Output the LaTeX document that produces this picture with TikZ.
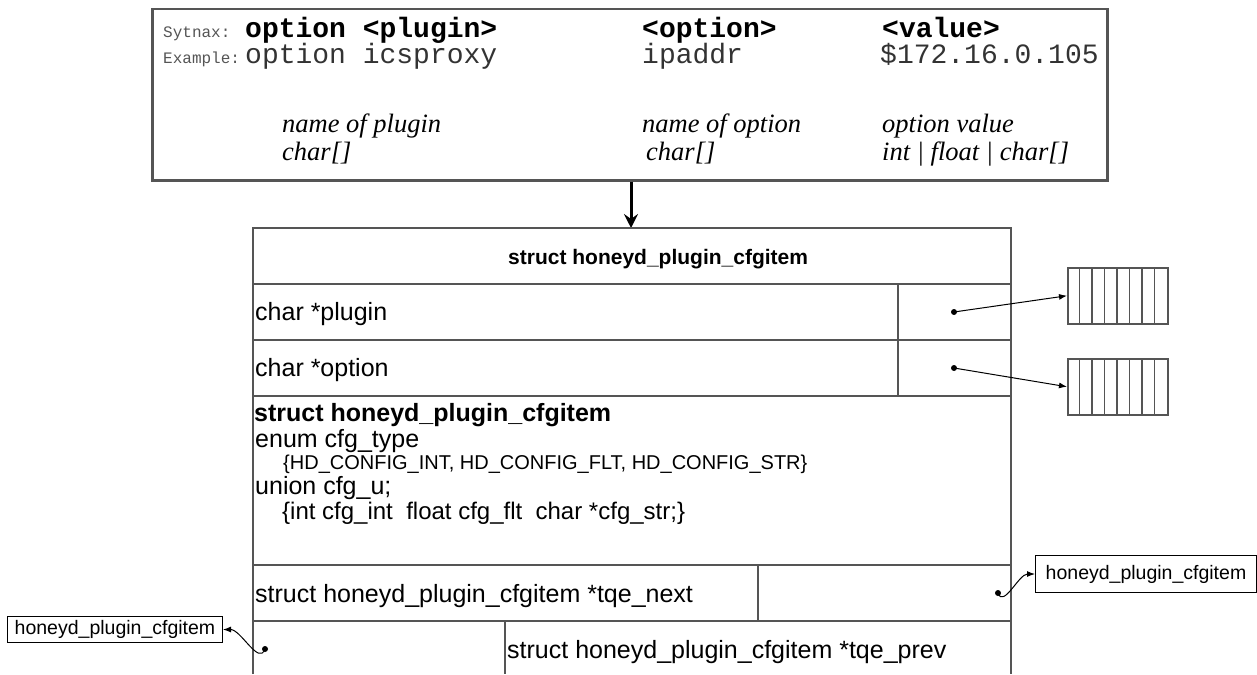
\documentclass[tikz,border=0pt]{standalone}
\usepackage{fontspec}
\setmainfont{Liberation Sans}
\newfontfamily\monofont{Liberation Mono}
\newfontfamily\timesfont{Liberation Serif}
\usetikzlibrary{arrows.meta}
\definecolor{rule}{HTML}{555555}
\definecolor{ink}{HTML}{333333}

\begin{document}
\begin{tikzpicture}[x=1pt, y=-1pt,
  txt/.style={anchor=base west, inner sep=0pt},
  field/.style={txt, font=\fontsize{25}{28}\selectfont},
  small field/.style={txt, font=\fontsize{20}{22}\selectfont},
  code/.style={txt, font=\monofont\fontsize{28}{30}\selectfont},
  tag/.style={txt, font=\monofont\fontsize{16}{18}\selectfont, text=rule},
  note/.style={txt, font=\timesfont\itshape\fontsize{26.5}{28}\selectfont},
  namebox/.style={draw=black, line width=1, inner sep=0pt, font=\fontsize{19.5}{21}\selectfont},
  chararray/.style={draw=rule, line width=1.5, minimum width=100, minimum height=56, inner sep=0pt},
  ptr/.style={line width=1, -{Latex[length=8,width=6]}}
]
\useasboundingbox[fill=white] (0,0) rectangle (1257,674);

% syntax box
\node[draw=rule, line width=2.5, minimum width=955, minimum height=171, inner sep=0pt, anchor=north west] (syntax) at (151,8) {};
\node[tag] (syn) at (163,38) {Sytnax:};
\node[tag] (exa) at (163,64) {Example:};
\node[code, font=\monofont\bfseries\fontsize{28}{30}\selectfont] (plug) at (245,38) {option <plugin>};
\node[code, font=\monofont\bfseries\fontsize{28}{30}\selectfont] (opt) at (642,38) {<option>};
\node[code, font=\monofont\bfseries\fontsize{28}{30}\selectfont] (val) at (882,38) {<value>};
\node[code, text=ink] (plugx) at (245,64) {option icsproxy};
\node[code, text=ink] (optx) at (642,64) {ipaddr};
\node[code, text=ink] (valx) at (880,64) {\$172.16.0.105};
\node[note] (plugn) at (282,132) {name of plugin};
\node[note] (plugt) at (282,160) {char[]};
\node[note] (optn) at (642,132) {name of option};
\node[note] (optt) at (646,160) {char[]};
\node[note] (valn) at (882,132) {option value};
\node[note] (valt) at (882,160) {int | float | char[]};

% struct
\node[txt, font=\bfseries\fontsize{21}{23}\selectfont] (head) at (508,264) {struct honeyd\_plugin\_cfgitem};
\coordinate (top) at (631,228);
\draw[line width=3, -{Stealth[length=14,width=14,inset=5]}] (syntax.south -| top) -- (top);

\draw[rule, line width=1.5] (253,674) -- (253,228) -- (1011,228) -- (1011,674);
\foreach \y in {284,340,396,565,621}{
	\draw[rule, line width=1.5] (253,\y) -- (1011,\y);
}
\draw[rule, line width=1.5] (898,284) -- (898,396);
\draw[rule, line width=1.5] (758,565) -- (758,621);
\draw[rule, line width=1.5] (505,621) -- (505,674);

\node[field] (plugin) at (255,320) {char *plugin};
\node[field] (option) at (255,376) {char *option};
\node[field, font=\bfseries\fontsize{25}{28}\selectfont] (inner) at (254,421) {struct honeyd\_plugin\_cfgitem};
\node[field] (enum) at (255,447) {enum cfg\_type};
\node[small field] (enumv) at (283,469) {\{HD\_CONFIG\_INT, HD\_CONFIG\_FLT, HD\_CONFIG\_STR\}};
\node[field] (union) at (255,494) {union cfg\_u;};
\node[field, font=\fontsize{24}{26}\selectfont] (unionv) at (282,519) {\{int cfg\_int\ \ float cfg\_flt\ \ char *cfg\_str;\}};
\node[field] (next) at (255,602) {struct honeyd\_plugin\_cfgitem *tqe\_next};
\node[field] (prev) at (507,658) {struct honeyd\_plugin\_cfgitem *tqe\_prev};

% char arrays
\foreach \y/\n in {267/arrA, 358/arrB}{
	\node[chararray, anchor=north west] (\n) at (1067,\y) {};
	\foreach \i in {1,...,7}{
		\draw[rule, line width=1.2] (1067+12.5*\i,\y) -- (1067+12.5*\i,\y+56);
	}
}

% list neighbours
\node[namebox, minimum width=221, minimum height=37, anchor=north west] (nextbox) at (1035,555) {honeyd\_plugin\_cfgitem};
\node[namebox, minimum width=215, minimum height=26, anchor=north west] (prevbox) at (7,616) {honeyd\_plugin\_cfgitem};

% pointers
\coordinate (pPlug) at (954,312);
\coordinate (pOpt) at (954,368);
\coordinate (pNext) at (998,593);
\coordinate (pPrev) at (265,649);
\foreach \p in {pPlug,pOpt,pNext,pPrev}{
	\fill (\p) circle (3);
}
\draw[ptr] (pPlug) -- (arrA.west);
\draw[ptr] (pOpt) -- (arrB.west);
\draw[ptr] (pNext) to[out=290, in=180] (nextbox.west);
\draw[ptr] (pPrev) to[out=250, in=0] (prevbox.east);

\end{tikzpicture}
\end{document}
